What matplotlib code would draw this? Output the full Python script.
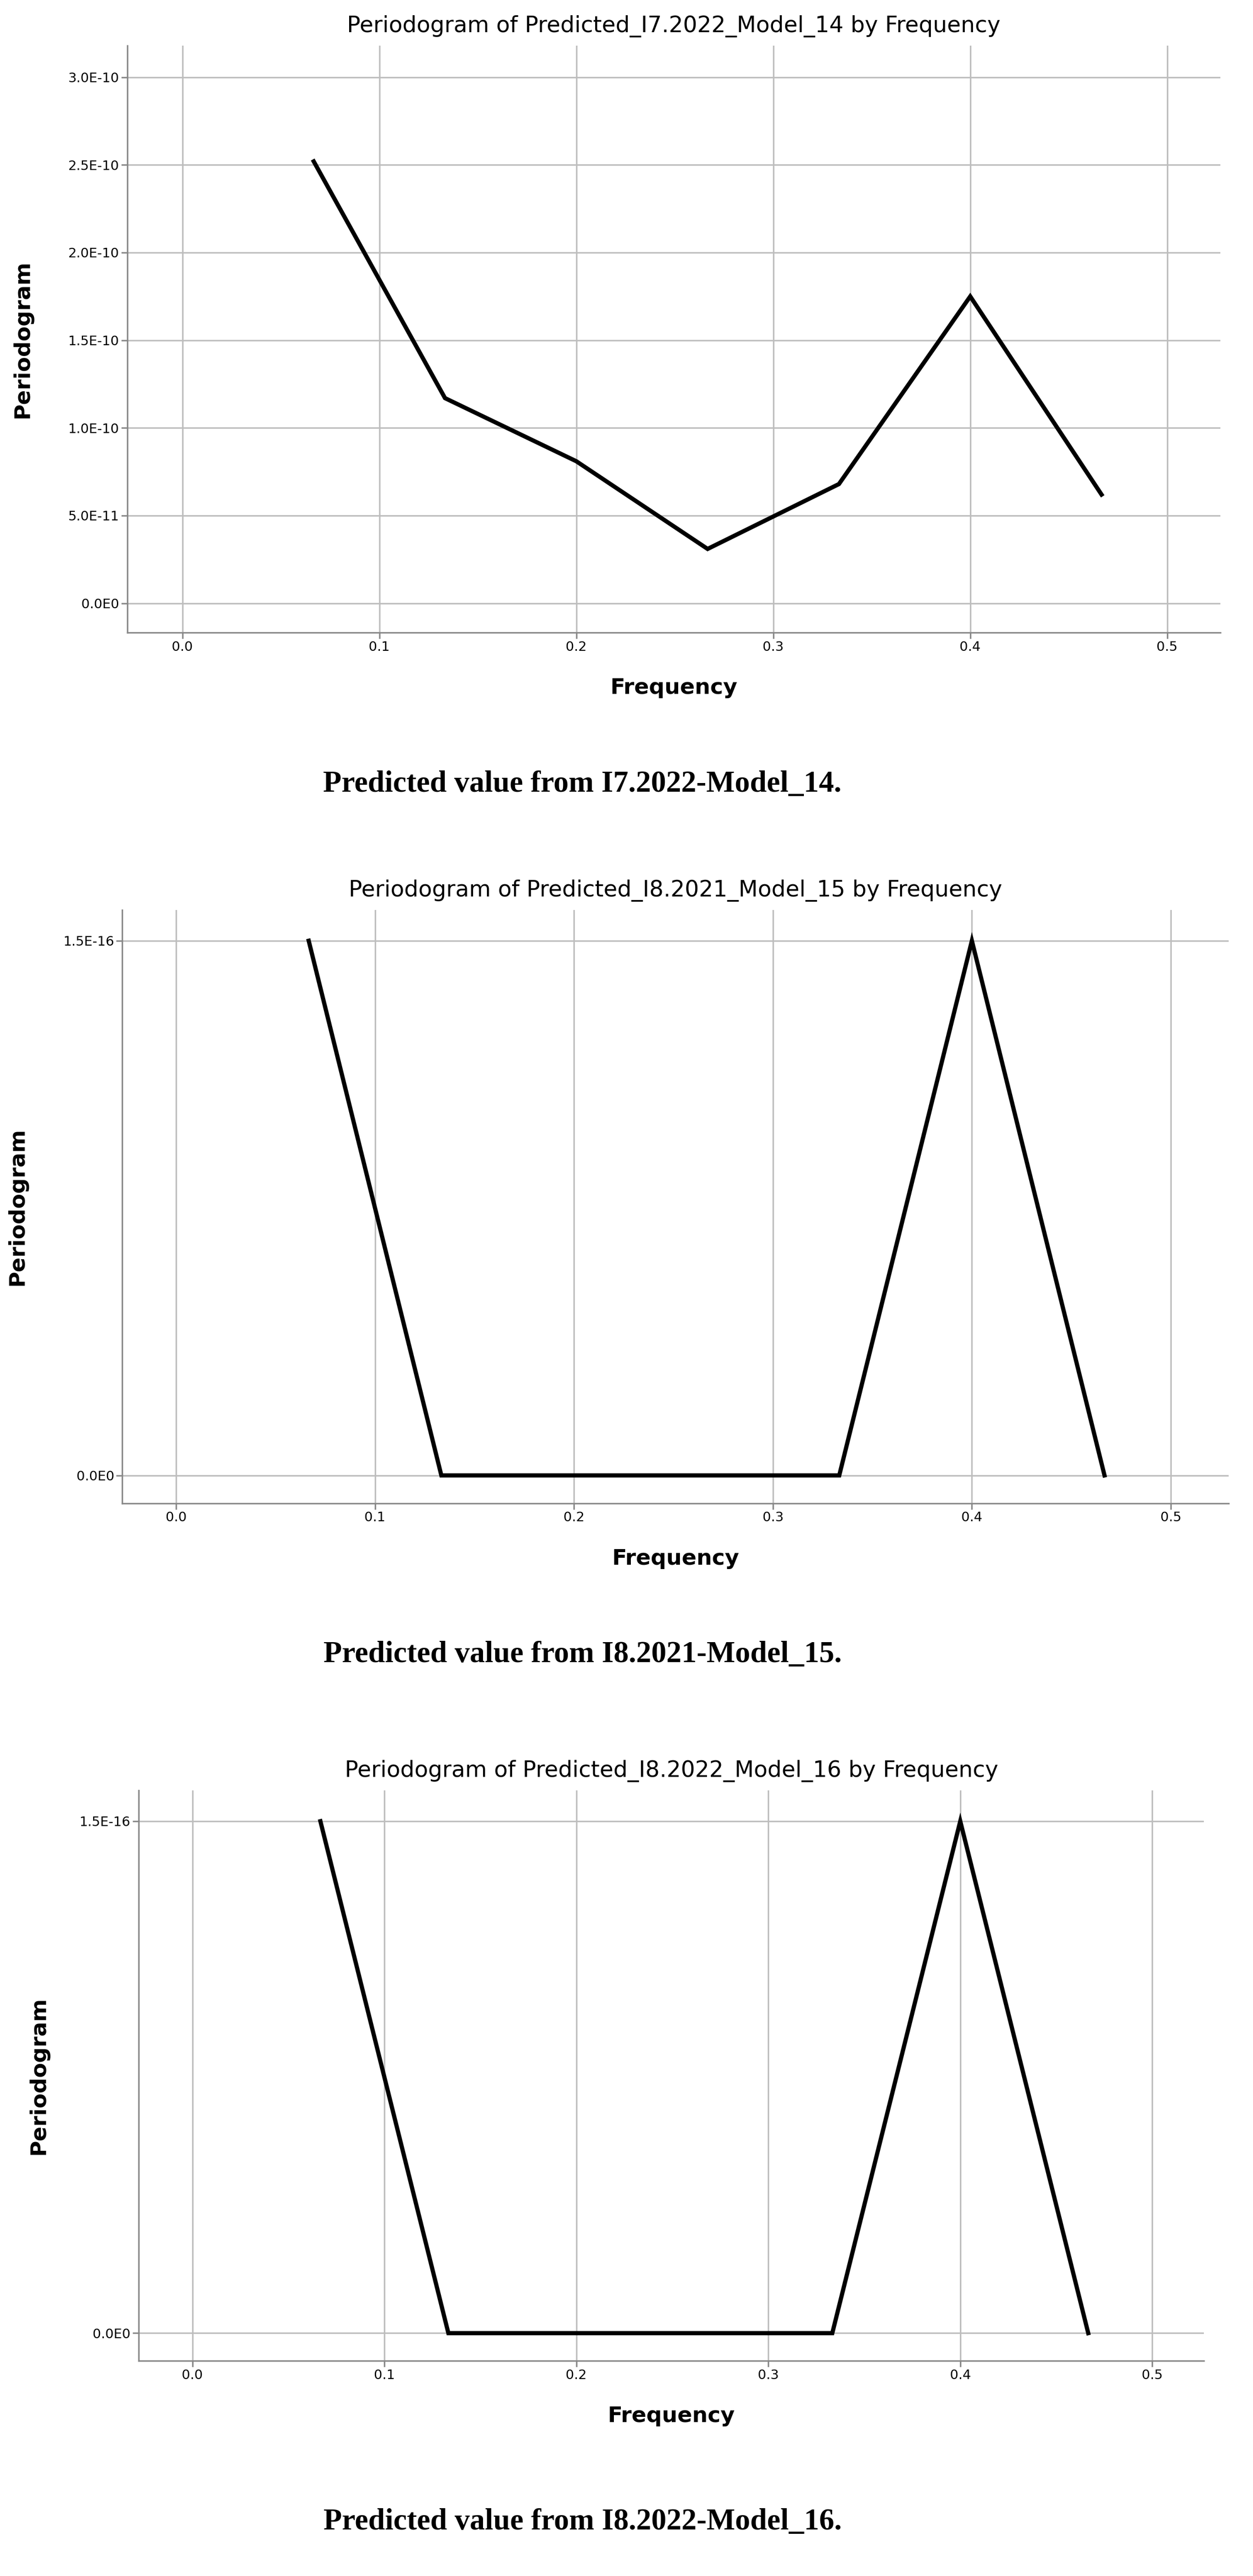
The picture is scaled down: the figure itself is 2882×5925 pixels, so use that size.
import numpy as np
import matplotlib
matplotlib.use("Agg")
import matplotlib.pyplot as plt
from matplotlib.ticker import FuncFormatter

freq = [1/15, 2/15, 3/15, 4/15, 5/15, 6/15, 7/15]
period_14 = [2.52e-10, 1.17e-10, 0.81e-10, 0.31e-10, 0.68e-10, 1.75e-10, 0.62e-10]
period_15 = [1.5e-16, 0, 0, 0, 0, 1.5e-16, 0]
period_16 = [1.5e-16, 0, 0, 0, 0, 1.5e-16, 0]

titles = ["Periodogram of Predicted_I7.2022_Model_14 by Frequency",
          "Periodogram of Predicted_I8.2021_Model_15 by Frequency",
          "Periodogram of Predicted_I8.2022_Model_16 by Frequency"]
captions = ["Predicted value from I7.2022-Model_14.",
            "Predicted value from I8.2021-Model_15.",
            "Predicted value from I8.2022-Model_16."]
xticks = [0.0, 0.1, 0.2, 0.3, 0.4, 0.5]
yticks_14 = [0, 0.5e-10, 1.0e-10, 1.5e-10, 2.0e-10, 2.5e-10, 3.0e-10]
yticks_16 = [0, 1.5e-16]

W, H = 768, 1580
fig = plt.figure(figsize=(28.82, 59.25), dpi=100)


def sci(v, pos):
    if v == 0:
        return "0.0E0"
    e = int(np.floor(np.log10(abs(v))))
    return f"{v / 10**e:.1f}E{e}"


# (left, top, right, bottom) in display px, ylim, xlim, yticks, ylabel x, caption y
panels = [
    ((78, 28, 748, 388), (-0.167e-10, 3.18e-10), (-0.028, 0.527), yticks_14, period_14, 20, 481),
    ((75, 558, 753, 922), (-0.078e-16, 1.587e-16), (-0.027, 0.529), yticks_16, period_15, 17, 1015),
    ((85, 1098, 738, 1448), (-0.081e-16, 1.591e-16), (-0.028, 0.527), yticks_16, period_16, 30, 1547),
]

for i, (box, ylim, xlim, yt, vals, ylx, capy) in enumerate(panels):
    l, t, r, b = box
    ax = fig.add_axes([l / W, 1 - b / H, (r - l) / W, (b - t) / H])
    ax.plot(freq, vals, color="black", lw=7, solid_joinstyle="miter")
    ax.set_xlim(*xlim)
    ax.set_ylim(*ylim)
    ax.set_xticks(xticks)
    ax.set_xticklabels([f"{x:.1f}" for x in xticks])
    ax.set_yticks(yt)
    ax.yaxis.set_major_formatter(FuncFormatter(sci))
    ax.grid(True, color="#bdbdbd", lw=2.5)
    ax.set_axisbelow(True)
    for s in ["top", "right"]:
        ax.spines[s].set_visible(False)
    for s in ["left", "bottom"]:
        ax.spines[s].set_color("#888888")
        ax.spines[s].set_linewidth(2.5)
    ax.tick_params(labelsize=22, length=10, width=2.5, color="#888888")
    ax.set_title(titles[i], fontsize=37, pad=22)
    ax.set_xlabel("Frequency", fontsize=36, fontweight="bold", labelpad=40)
    ax.set_ylabel("Periodogram", fontsize=36, fontweight="bold")
    ax.yaxis.set_label_coords((ylx - l) / (r - l), 0.5)
    fig.text(357 / W, 1 - capy / H, captions[i], ha="center", va="center",
             fontsize=50, fontweight="bold", family="Liberation Serif")

fig.savefig("out.png", dpi=100)
